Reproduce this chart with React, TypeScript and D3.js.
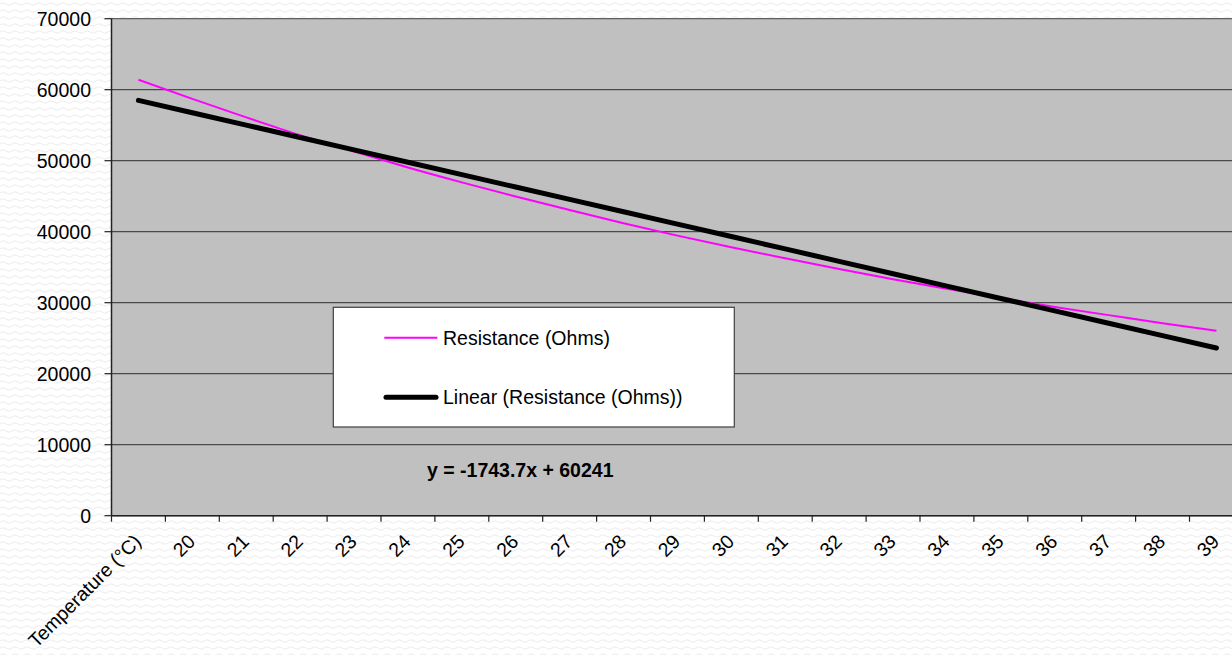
import React from "react";
import * as d3 from "d3";

const categories = ["Temperature (°C)", "20", "21", "22", "23", "24", "25", "26", "27", "28", "29", "30", "31", "32", "33", "34", "35", "36", "37", "38", "39"];
const resistance = [61400, 58700, 56100, 53600, 51300, 49050, 46950, 44950, 43050, 41200, 39450, 37800, 36250, 34750, 33300, 31950, 30650, 29400, 28250, 27100, 26050];
const yTicks = [0, 10000, 20000, 30000, 40000, 50000, 60000, 70000];
const trendSlope = -1743.7;
const trendIntercept = 60241;
const seriesName = "Resistance (Ohms)";
const trendName = "Linear (Resistance (Ohms))";
const equationLabel = "y = -1743.7x + 60241";

const W = 1232;
const H = 655;
const plotL = 111.5;
const plotT = 18.7;
const plotB = 515.7;
const catW = 53.9;
const plotR = plotL + catW * categories.length;
const FONT = "Arial, 'Liberation Sans', sans-serif";

export default function App() {
  const x = d3.scaleBand<string>().domain(categories).range([plotL, plotR]).paddingInner(0).paddingOuter(0);
  const cx = (c: string) => (x(c) as number) + x.bandwidth() / 2;
  const y = d3.scaleLinear().domain([0, 70000]).range([plotB, plotT]);

  const line = d3
    .line<number>()
    .x((_, i) => cx(categories[i]))
    .y((d) => y(d))
    .curve(d3.curveMonotoneX);

  const trendVals = categories.map((_, i) => trendSlope * (i + 1) + trendIntercept);
  const trendLine = d3
    .line<number>()
    .x((_, i) => cx(categories[i]))
    .y((d) => y(d));

  const boundaries = categories.map((c) => x(c) as number).concat([plotR]);

  return (
    <svg width={W} height={H} style={{ position: "absolute", left: 0, top: 0 }} fontFamily={FONT}>
      <defs>
        <pattern id="wave" width="12" height="7" patternUnits="userSpaceOnUse">
          <rect width="12" height="7" fill="#ffffff" />
          <path d="M0 4 Q3 1.5 6 4 T12 4" fill="none" stroke="#ececec" strokeWidth="1" />
        </pattern>
      </defs>
      <rect x={0} y={0} width={W} height={H} fill="url(#wave)" />
      {/* plot area */}
      <rect x={plotL} y={plotT} width={plotR - plotL} height={plotB - plotT} fill="#c0c0c0" stroke="#404040" strokeWidth={1} />
      {yTicks.filter((t) => t > 0 && t < 70000).map((t) => (
        <line key={t} x1={plotL} x2={plotR} y1={y(t)} y2={y(t)} stroke="#4a4a4a" strokeWidth={1.2} />
      ))}
      {/* axes */}
      <line x1={plotL} x2={plotL} y1={plotT} y2={plotB} stroke="#222" strokeWidth={1.5} />
      <line x1={plotL} x2={plotR} y1={plotB} y2={plotB} stroke="#222" strokeWidth={1.5} />
      {yTicks.map((t) => (
        <g key={t}>
          <line x1={plotL - 7} x2={plotL} y1={y(t)} y2={y(t)} stroke="#222" strokeWidth={1.2} />
          <text x={91} y={y(t)} dy="0.36em" textAnchor="end" fontSize={19.5} fill="#000">
            {t}
          </text>
        </g>
      ))}
      {boundaries.map((b, i) => (
        <line key={i} x1={b} x2={b} y1={plotB} y2={plotB + 6} stroke="#222" strokeWidth={1.2} />
      ))}
      {categories.map((c) => (
        <text
          key={c}
          textAnchor="end"
          fontSize={19.5}
          fill="#000"
          transform={`translate(${cx(c) + 4},${plotB + 27}) rotate(-45)`}
        >
          {c}
        </text>
      ))}
      {/* series */}
      <path d={line(resistance) || ""} fill="none" stroke="#ff00ff" strokeWidth={2} />
      <path d={trendLine(trendVals) || ""} fill="none" stroke="#000" strokeWidth={5} strokeLinecap="round" />
      {/* legend */}
      <rect x={333.3} y={307.3} width={401} height={119.7} fill="#ffffff" stroke="#404040" strokeWidth={1.2} />
      <line x1={384.3} x2={437.3} y1={337.7} y2={337.7} stroke="#ff00ff" strokeWidth={2} />
      <text x={443} y={337.7} dy="0.36em" fontSize={19.5} fill="#000">{seriesName}</text>
      <line x1={386} x2={436} y1={397.3} y2={397.3} stroke="#000" strokeWidth={5} strokeLinecap="round" />
      <text x={443} y={397.3} dy="0.36em" fontSize={19.5} fill="#000">{trendName}</text>
      {/* equation */}
      <text x={427} y={470} dy="0.36em" fontSize={19.5} fontWeight="bold" fill="#000">{equationLabel}</text>
    </svg>
  );
}
